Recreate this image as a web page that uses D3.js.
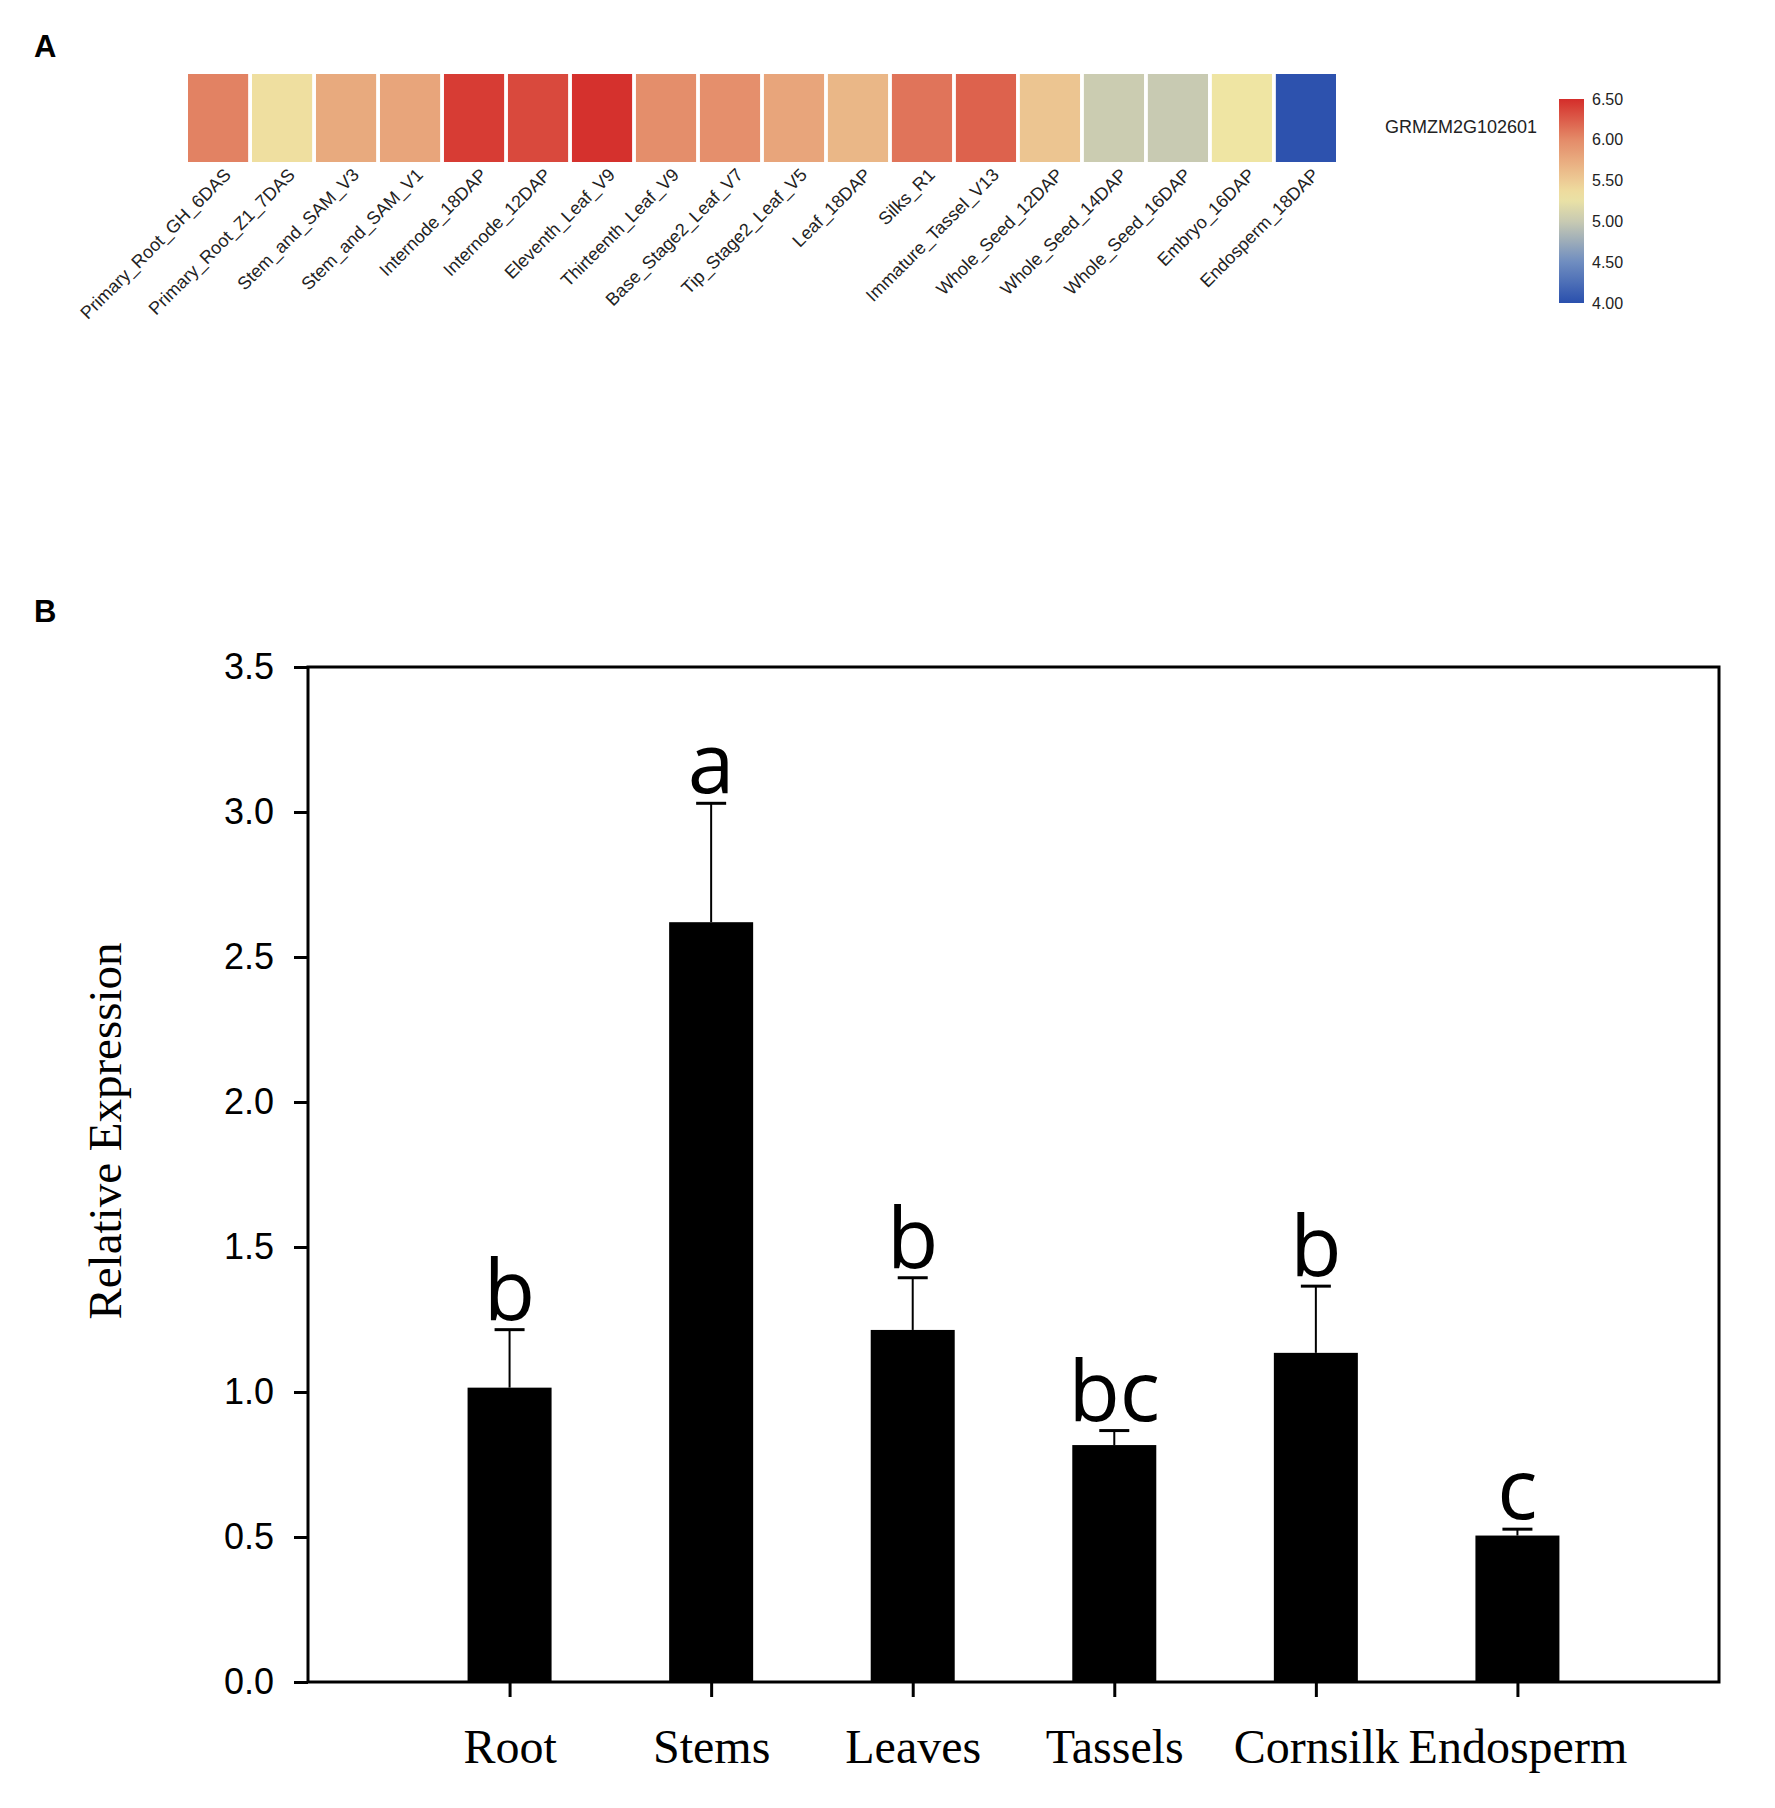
<!DOCTYPE html>
<html>
<head>
<meta charset="utf-8">
<script src="https://cdn.jsdelivr.net/npm/d3@7"></script>
<style>
body { margin: 0; background: #fff; }
svg { display: block; }
</style>
</head>
<body>
<svg id="chart" width="1775" height="1808"></svg>
<script>
// panel A: tissue expression heatmap
var tissues = ['Primary_Root_GH_6DAS', 'Primary_Root_Z1_7DAS', 'Stem_and_SAM_V3', 'Stem_and_SAM_V1',
  'Internode_18DAP', 'Internode_12DAP', 'Eleventh_Leaf_V9', 'Thirteenth_Leaf_V9', 'Base_Stage2_Leaf_V7',
  'Tip_Stage2_Leaf_V5', 'Leaf_18DAP', 'Silks_R1', 'Immature_Tassel_V13', 'Whole_Seed_12DAP',
  'Whole_Seed_14DAP', 'Whole_Seed_16DAP', 'Embryo_16DAP', 'Endosperm_18DAP'];
var heatValues = [6.05, 5.35, 5.76, 5.8, 6.42, 6.35, 6.48, 5.98, 5.97, 5.8, 5.66, 6.12, 6.22, 5.55, 5.02, 5.0, 5.3, 4.02];
var geneName = 'GRMZM2G102601';
var colorTicks = [6.5, 6.0, 5.5, 5.0, 4.5, 4.0];

// panel B: qRT-PCR
var organs = ['Root', 'Stems', 'Leaves', 'Tassels', 'Cornsilk', 'Endosperm'];
var expression = [1.015, 2.62, 1.214, 0.817, 1.135, 0.505];
var errors = [0.2, 0.41, 0.18, 0.05, 0.23, 0.022];
var groups = ['b', 'a', 'b', 'bc', 'b', 'c'];
var yTicks = [0, 0.5, 1.0, 1.5, 2.0, 2.5, 3.0, 3.5];

var svg = d3.select('#chart');

var color = d3.scaleLinear()
  .domain([4.0, 4.5, 5.0, 5.3, 5.5, 6.0, 6.5])
  .range(['#2a50ad', '#6f8dc0', '#c8cab2', '#efe5a3', '#edcb95', '#e48b69', '#d42d2a'])
  .interpolate(d3.interpolateRgb)
  .clamp(true);

svg.append('text').attr('x', 34).attr('y', 57)
  .attr('font-family', 'Liberation Sans, Arial').attr('font-weight', 'bold').attr('font-size', 31)
  .text('A');
svg.append('text').attr('x', 34).attr('y', 622)
  .attr('font-family', 'Liberation Sans, Arial').attr('font-weight', 'bold').attr('font-size', 31)
  .text('B');

var hx = d3.scaleBand().domain(tissues).range([188, 1336]).paddingInner(0.06);
var heat = svg.append('g');
heat.selectAll('rect.cell').data(tissues).enter().append('rect')
  .attr('class', 'cell')
  .attr('x', function(d){ return hx(d); })
  .attr('y', 74)
  .attr('width', hx.bandwidth())
  .attr('height', 88)
  .attr('fill', function(d, i){ return color(heatValues[i]); });
heat.selectAll('text.tl').data(tissues).enter().append('text')
  .attr('class', 'tl')
  .attr('transform', function(d){
    return 'translate(' + (hx(d) + hx.bandwidth() / 2 + 14) + ',176) rotate(-45)';
  })
  .attr('text-anchor', 'end')
  .attr('font-family', 'Liberation Sans, Arial').attr('font-size', 18)
  .attr('fill', '#222')
  .text(function(d){ return d; });

svg.append('text').attr('x', 1385).attr('y', 133)
  .attr('font-family', 'Liberation Sans, Arial').attr('font-size', 18).attr('fill', '#222')
  .text(geneName);

// colour key
var cy = d3.scaleLinear().domain([4.0, 6.5]).range([303, 99]);
var grad = svg.append('defs').append('linearGradient')
  .attr('id', 'key').attr('x1', 0).attr('y1', 1).attr('x2', 0).attr('y2', 0);
grad.selectAll('stop').data(d3.range(0, 1.0001, 0.05)).enter().append('stop')
  .attr('offset', function(t){ return t; })
  .attr('stop-color', function(t){ return color(4.0 + 2.5 * t); });
svg.append('rect').attr('x', 1559).attr('y', cy(6.5)).attr('width', 25)
  .attr('height', cy(4.0) - cy(6.5)).attr('fill', 'url(#key)');
svg.selectAll('text.ck').data(colorTicks).enter().append('text')
  .attr('class', 'ck')
  .attr('x', 1592).attr('y', function(d){ return cy(d); }).attr('dy', '0.35em')
  .attr('font-family', 'Liberation Sans, Arial').attr('font-size', 16).attr('fill', '#222')
  .text(d3.format('.2f'));

// bar chart
var pLeft = 308, pRight = 1719, pTop = 667, pBottom = 1682;
var x = d3.scalePoint().domain(organs).range([pLeft, pRight]).padding(1);
var y = d3.scaleLinear().domain([0, 3.5]).range([pBottom, pTop]);
var bw = 84;

var gy = svg.append('g').attr('transform', 'translate(' + pLeft + ',0)')
  .call(d3.axisLeft(y).tickValues(yTicks).tickFormat(d3.format('.1f')).tickSize(14).tickPadding(20));
gy.select('.domain').remove();
gy.selectAll('line').attr('stroke', '#000').attr('stroke-width', 3);
gy.selectAll('text').attr('font-family', 'Liberation Sans, Arial').attr('font-size', 36).attr('fill', '#000');

var gx = svg.append('g').attr('transform', 'translate(0,' + pBottom + ')')
  .call(d3.axisBottom(x).tickSize(15).tickPadding(32));
gx.select('.domain').remove();
gx.selectAll('line').attr('stroke', '#000').attr('stroke-width', 3);
gx.selectAll('text').attr('font-family', 'Liberation Serif, Times New Roman').attr('font-size', 48).attr('fill', '#000');

svg.append('text')
  .attr('transform', 'translate(121,1131) rotate(-90)')
  .attr('text-anchor', 'middle')
  .attr('font-family', 'Liberation Serif, Times New Roman').attr('font-size', 47)
  .text('Relative Expression');

var bars = svg.append('g');
bars.selectAll('line.err').data(organs).enter().append('line')
  .attr('class', 'err')
  .attr('x1', function(d){ return x(d); }).attr('x2', function(d){ return x(d); })
  .attr('y1', function(d, i){ return y(expression[i]); })
  .attr('y2', function(d, i){ return y(expression[i] + errors[i]); })
  .attr('stroke', '#000').attr('stroke-width', 2);
bars.selectAll('line.cap').data(organs).enter().append('line')
  .attr('class', 'cap')
  .attr('x1', function(d){ return x(d) - 15; }).attr('x2', function(d){ return x(d) + 15; })
  .attr('y1', function(d, i){ return y(expression[i] + errors[i]); })
  .attr('y2', function(d, i){ return y(expression[i] + errors[i]); })
  .attr('stroke', '#000').attr('stroke-width', 3);
bars.selectAll('rect').data(organs).enter().append('rect')
  .attr('x', function(d){ return x(d) - bw / 2; })
  .attr('y', function(d, i){ return y(expression[i]); })
  .attr('width', bw)
  .attr('height', function(d, i){ return pBottom - y(expression[i]); })
  .attr('fill', '#000');
bars.selectAll('text').data(organs).enter().append('text')
  .attr('x', function(d){ return x(d); })
  .attr('y', function(d, i){ return y(expression[i] + errors[i]) - 10; })
  .attr('text-anchor', 'middle')
  .attr('font-family', 'Open Sans, Noto Sans').attr('font-size', 84)
  .text(function(d, i){ return groups[i]; });

// frame
svg.append('rect').attr('x', pLeft).attr('y', pTop)
  .attr('width', pRight - pLeft).attr('height', pBottom - pTop)
  .attr('fill', 'none').attr('stroke', '#000').attr('stroke-width', 3);
</script>
</body>
</html>
